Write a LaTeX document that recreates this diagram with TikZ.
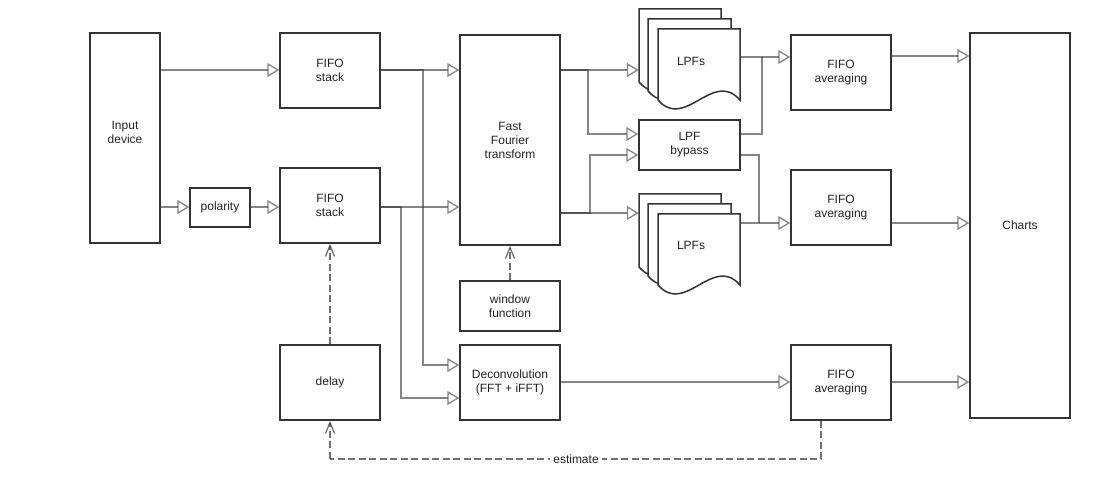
\documentclass[tikz,border=0pt]{standalone}
\usepackage{fontspec}
\setmainfont{Liberation Sans}
\usetikzlibrary{arrows.meta}
\definecolor{ink}{HTML}{333333}
\definecolor{txt}{HTML}{222222}
\tikzset{
  blk/.style={draw=ink, line width=1.5pt, fill=white, inner sep=0pt,
    align=center, text=txt, font=\fontsize{12}{14}\selectfont},
  sheet/.style={draw=ink, line width=1.5pt, fill=white},
  wire/.style={draw=black!80, draw opacity=0.6, line width=1.3pt},
  conn/.style={wire, -{Triangle[open, length=12pt, width=14pt]}},
  dconn/.style={draw=black!80, draw opacity=0.7, line width=1.3pt,
    dash pattern=on 7pt off 3.5pt,
    -{Straight Barb[length=11pt, width=9pt]}},
  dline/.style={draw=black!80, draw opacity=0.7, line width=1.3pt,
    dash pattern=on 7pt off 3.5pt},
}
% one sheet of a document stack: left x, top y, right x, bottom y of the wavy edge
\newcommand\docsheet[4]{%
  \path[sheet] (#1,#2) -- (#3,#2) -- (#3,#4)
    .. controls ({#3-(#3-#1)/3},{#4-31}) and ({#1+(#3-#1)/3},{#4+31}) .. (#1,#4) -- cycle;}
\begin{document}
\begin{tikzpicture}[x=1pt, y=-1pt]
\useasboundingbox (0,0) rectangle (1096,486);

% blocks
\node[blk, minimum width=70pt, minimum height=210pt] (inp) at (125,138) {};
\node[text=txt, align=center, font=\fontsize{12}{14}\selectfont] (inptxt) at (125,132) {Input\\device};
\node[blk, minimum width=60pt, minimum height=39pt] (pol) at (220,207.5) {polarity};
\node[blk, minimum width=100pt, minimum height=75pt] (fifoA) at (330,70.5) {FIFO\\stack};
\node[blk, minimum width=100pt, minimum height=75pt] (fifoB) at (330,205.5) {FIFO\\stack};
\node[blk, minimum width=100pt, minimum height=210pt] (fft) at (510,140) {Fast\\Fourier\\transform};
\node[blk, minimum width=100pt, minimum height=50pt] (win) at (510,306) {window\\function};
\node[blk, minimum width=100pt, minimum height=75pt] (delay) at (330,382.5) {delay};
\node[blk, minimum width=100pt, minimum height=75pt] (dec) at (510,382.5) {Deconvolution\\(FFT + iFFT)};
\node[blk, minimum width=101pt, minimum height=50pt] (byp) at (689.5,145) {LPF\\bypass};
\node[blk, minimum width=100pt, minimum height=75pt] (avgA) at (841,72.5) {FIFO\\averaging};
\node[blk, minimum width=100pt, minimum height=75pt] (avgB) at (841,207.5) {FIFO\\averaging};
\node[blk, minimum width=100pt, minimum height=75pt] (avgC) at (841,382.5) {FIFO\\averaging};
\node[blk, minimum width=100pt, minimum height=385pt] (charts) at (1020,225.5) {Charts};

% filter banks drawn as stacked documents
\docsheet{639}{9}{721}{82}
\docsheet{648}{19}{731}{91}
\docsheet{658}{29}{740}{100}
\node[inner sep=0pt, minimum width=101pt, minimum height=101pt] (lpfA) at (689.5,59.5) {};
\node[text=txt, font=\fontsize{12}{14}\selectfont] (lpfAtxt) at (691,61) {LPFs};
\docsheet{639}{194}{721}{267}
\docsheet{648}{204}{731}{276}
\docsheet{658}{214}{740}{285}
\node[inner sep=0pt, minimum width=101pt, minimum height=101pt] (lpfB) at (689.5,244.5) {};
\node[text=txt, font=\fontsize{12}{14}\selectfont] (lpfBtxt) at (691,245) {LPFs};

% signal path
\draw[conn] (inp.east |- 0,70) -- (fifoA.west |- 0,70);
\draw[conn] (inp.east |- 0,207) -- (pol.west |- 0,207);
\draw[conn] (pol.east |- 0,207) -- (fifoB.west |- 0,207);
\draw[conn] (fifoA.east |- 0,70) -- (fft.west |- 0,70);
\draw[conn] (fifoA.east |- 0,70) -| (423,365) -- (dec.west |- 0,365);
\draw[conn] (fifoB.east |- 0,207) -- (fft.west |- 0,207);
\draw[conn] (fifoB.east |- 0,207) -| (401,398) -- (dec.west |- 0,398);
\draw[conn] (fft.east |- 0,70) -- (lpfA.west |- 0,70);
\draw[conn] (fft.east |- 0,70) -| (588,134) -- (byp.west |- 0,134);
\draw[conn] (fft.east |- 0,213) -- (lpfB.west |- 0,213);
\draw[conn] (fft.east |- 0,213) -| (590,155) -- (byp.west |- 0,155);
\coordinate (joinA) at (762,57);
\coordinate (joinB) at (759,223);
\draw[conn] (lpfA.east |- 0,57) -- (avgA.west |- 0,57);
\draw[wire] (byp.east |- 0,134) -| (joinA);
\draw[conn] (lpfB.east |- 0,223) -- (avgB.west |- 0,223);
\draw[wire] (byp.east |- 0,155) -| (joinB);
\draw[conn] (dec.east |- 0,382) -- (avgC.west |- 0,382);
\draw[conn] (avgA.east |- 0,56) -- (charts.west |- 0,56);
\draw[conn] (avgB.east |- 0,223) -- (charts.west |- 0,223);
\draw[conn] (avgC.east |- 0,382) -- (charts.west |- 0,382);

% control path
\draw[dconn] (win.north) -- (fft.south);
\draw[dconn] (delay.north) -- (fifoB.south);
\coordinate (estR) at (821,459);
\coordinate (estL) at (330,459);
\draw[dline] (821,0 |- avgC.south) -- (estR) -- (estL);
\draw[dconn] (estL) -- (delay.south);
\node[fill=white, inner xsep=3pt, inner ysep=1pt, text=txt, font=\fontsize{12}{14}\selectfont] (est) at (576,459) {estimate};
\end{tikzpicture}
\end{document}
